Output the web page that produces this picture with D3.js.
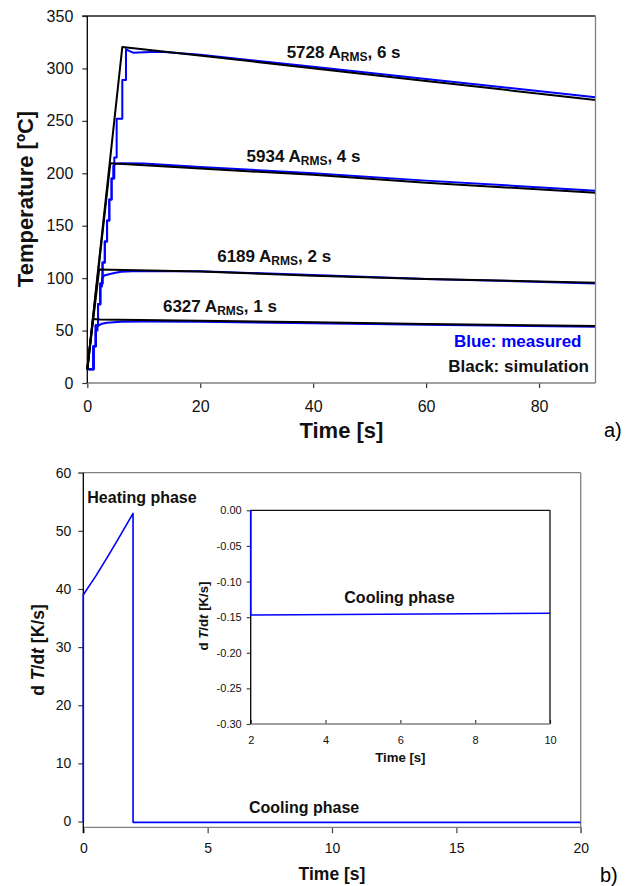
<!DOCTYPE html>
<html><head><meta charset="utf-8">
<script src="https://cdn.jsdelivr.net/npm/d3@7"></script>
<style>
body{margin:0;background:#fff}
svg{display:block}
text{font-family:"Liberation Sans",Arial,sans-serif}
</style>
</head><body>
<svg id="chart" width="626" height="886"></svg>
<script>
// ---------- Panel a data ----------
const timeTicksA = [0, 20, 40, 60, 80];
const tempTicks = [0, 50, 100, 150, 200, 250, 300, 350];

const sim6 = [[0,13],[6.2,320.5],[30,306.2],[60,288],[90,270]];
const sim4 = [[0,13],[4.07,209.5],[20,204.5],[40,198.5],[60,191],[90,181.5]];
const sim2 = [[0,13],[2.1,108.3],[20,106.3],[40,102.3],[60,99.3],[90,95.5]];
const sim1 = [[0,13],[1.0,61],[2.2,60.5],[20,59.3],[40,58],[60,56.3],[90,54.3]];

const meas6 = [[0.2,13],[1.1,13],[1.1,35],[1.5,35],[1.5,55],[1.9,55],[1.9,75],[2.3,75],[2.3,95],[2.7,95],[2.7,115],[3.1,115],[3.1,135],[3.5,135],[3.5,155],[3.9,155],[3.9,175],[4.3,175],[4.3,195],[4.78,195],[4.78,215],[5.2,215],[5.2,252],[6.2,252],[6.2,289],[6.85,289],[6.85,318.5],[7.3,317],[8.1,315],[10,315.5],[13,316],[20,313],[40,301.5],[60,290],[90,272.6]];
const meas4 = [[0.2,13],[1.1,13],[1.1,35],[1.5,35],[1.5,55],[1.9,55],[1.9,75],[2.3,75],[2.3,95],[2.7,95],[2.7,115],[3.1,115],[3.1,135],[3.5,135],[3.5,155],[3.9,155],[3.9,175],[4.3,175],[4.3,195],[4.6,195],[4.6,207],[5.0,209],[6,209.5],[10,209.3],[20,206],[40,200],[60,193],[90,183.4]];
const meas2 = [[0.2,13],[1.1,13],[1.1,35],[1.5,35],[1.5,55],[1.9,55],[1.9,75],[2.3,75],[2.3,92],[2.6,92],[2.6,100],[3.0,102.5],[4,104],[5,105.2],[6,106],[8,106.5],[20,106.5],[40,103],[60,99.3],[90,95]];
const meas1 = [[0.2,13],[1.1,13],[1.1,35],[1.5,35],[1.5,50],[1.8,50],[1.8,54],[2.2,55.5],[2.6,56.5],[3.5,57.5],[6,58.3],[10,58.6],[20,58.3],[40,57],[60,55.5],[90,53.7]];

const runLabels = [
  {cur:"5728", dur:"6 s", t:35.3, T:310},
  {cur:"5934", dur:"4 s", t:28.2, T:211},
  {cur:"6189", dur:"2 s", t:23.0, T:115.5},
  {cur:"6327", dur:"1 s", t:13.4, T:67.6}
];

// ---------- Panel b data ----------
const timeTicksB = [0, 5, 10, 15, 20];
const rateTicks = [0, 10, 20, 30, 40, 50, 60];
const rateCurve = [[0,-0.15],[0,39],[0.5,42.2],[1,45.7],[1.5,49.3],[2,53],[2,-0.15],[20,-0.15]];

const insetTimeTicks = [2, 4, 6, 8, 10];
const insetRateTicks = [0, -0.05, -0.10, -0.15, -0.20, -0.25, -0.30];
const insetCurve = [[2,0],[2,-0.147],[10,-0.1445]];

// ---------- drawing ----------
const svg = d3.select("#chart");
const BLUE = "#0000ff";
const GRAY = "#808080";

function styleAxis(g, size, color){
  g.select(".domain").remove();
  g.selectAll(".tick line").attr("stroke", color).attr("stroke-width", 1.2);
  g.selectAll(".tick text").attr("font-size", size).attr("fill", "#111")
    .attr("font-family", '"Liberation Sans",Arial,sans-serif');
}
function hline(x1,x2,y,c){svg.append("line").attr("x1",x1).attr("x2",x2).attr("y1",y).attr("y2",y).attr("stroke",c).attr("stroke-width",1.3);}
function vline(x,y1,y2,c){svg.append("line").attr("x1",x).attr("x2",x).attr("y1",y1).attr("y2",y2).attr("stroke",c).attr("stroke-width",1.3);}

// ===== Panel a =====
const xA = d3.scaleLinear().domain([0,90]).range([87.3,595.5]);
const yA = d3.scaleLinear().domain([0,350]).range([383,16]);

const gxA = svg.append("g").attr("transform","translate(0,383)")
  .call(d3.axisBottom(xA).tickValues(timeTicksA).tickSize(5).tickPadding(13).tickSizeOuter(0));
styleAxis(gxA, 16, "#333");
const gyA = svg.append("g").attr("transform","translate(87.3,0)")
  .call(d3.axisLeft(yA).tickValues(tempTicks).tickSize(5).tickPadding(9).tickSizeOuter(0));
styleAxis(gyA, 16, "#333");

const lineA = d3.line().x(d=>xA(d[0])).y(d=>yA(d[1]));
[meas1, meas2, meas4, meas6].forEach(s=>{
  svg.append("path").attr("d", lineA(s)).attr("fill","none").attr("stroke",BLUE)
    .attr("stroke-width",2).attr("stroke-linejoin","round");
});
[sim1, sim2, sim4, sim6].forEach(s=>{
  svg.append("path").attr("d", lineA(s)).attr("fill","none").attr("stroke","#000")
    .attr("stroke-width",2).attr("stroke-linejoin","round");
});

hline(82.3, 595.5, 16, "#222");
vline(595.5, 16, 383, GRAY);
hline(87.3, 595.5, 383, GRAY);
vline(87.3, 16, 383, "#000");

runLabels.forEach(l=>{
  const t = svg.append("text").attr("x", xA(l.t)).attr("y", yA(l.T))
    .attr("font-size", 17).attr("font-weight","bold").attr("fill","#111");
  t.append("tspan").text(l.cur + " A");
  t.append("tspan").attr("dy", 3).attr("font-size", 12).text("RMS");
  t.append("tspan").attr("dy", -3).text(", " + l.dur);
});

svg.append("text").attr("x",581.5).attr("y",346.7).attr("text-anchor","end")
  .attr("font-size",17).attr("font-weight","bold").attr("fill",BLUE).text("Blue: measured");
svg.append("text").attr("x",589).attr("y",371.7).attr("text-anchor","end")
  .attr("font-size",17).attr("font-weight","bold").attr("fill","#111").text("Black: simulation");

svg.append("text").attr("x",xA(45)).attr("y",438).attr("text-anchor","middle")
  .attr("font-size",22).attr("font-weight","bold").attr("fill","#111").text("Time [s]");
svg.append("text").attr("transform","translate(33,199) rotate(-90)").attr("text-anchor","middle")
  .attr("font-size",22).attr("font-weight","bold").attr("fill","#111").text("Temperature [ºC]");

svg.append("text").attr("x",604).attr("y",437).attr("font-size",20)
  .attr("font-family",'"Liberation Serif","Times New Roman",serif').attr("fill","#000").text("a)");

// ===== Panel b =====
const xB = d3.scaleLinear().domain([0,20]).range([83.3,580.7]);
const yB = d3.scaleLinear().domain([-1,60]).range([827.3,472.7]);

const gxB = svg.append("g").attr("transform","translate(0,827.3)")
  .call(d3.axisBottom(xB).tickValues(timeTicksB).tickSize(6).tickPadding(10).tickSizeOuter(0));
styleAxis(gxB, 14, "#444");
gxB.selectAll(".tick line").filter(d=>d===0).attr("stroke","#000");
const gyB = svg.append("g").attr("transform","translate(83.3,0)")
  .call(d3.axisLeft(yB).tickValues(rateTicks).tickSize(5).tickPadding(7).tickSizeOuter(0));
styleAxis(gyB, 14, "#444");

hline(78.3, 580.7, 472.7, GRAY);
vline(580.7, 472.7, 833, GRAY);
hline(83.3, 580.7, 827.3, GRAY);
vline(83.3, 472.7, 833, "#000");

const lineB = d3.line().x(d=>xB(d[0])).y(d=>yB(d[1]));
svg.append("path").attr("d", lineB(rateCurve)).attr("fill","none").attr("stroke",BLUE)
  .attr("stroke-width",1.6).attr("stroke-linejoin","round");

svg.append("text").attr("x",87.3).attr("y",503.3).attr("font-size",16).attr("font-weight","bold")
  .attr("fill","#111").text("Heating phase");
svg.append("text").attr("x",249).attr("y",813.3).attr("font-size",16).attr("font-weight","bold")
  .attr("fill","#111").text("Cooling phase");

svg.append("text").attr("x",xB(10)).attr("y",880).attr("text-anchor","middle")
  .attr("font-size",17.5).attr("font-weight","bold").attr("fill","#111").text("Time [s]");
const yt = svg.append("text").attr("transform","translate(44,650) rotate(-90)").attr("text-anchor","middle")
  .attr("font-size",17.5).attr("font-weight","bold").attr("fill","#111");
yt.append("tspan").text("d");
yt.append("tspan").attr("font-style","italic").text(" T");
yt.append("tspan").text("/d");
yt.append("tspan").attr("font-style","italic").text("t");
yt.append("tspan").text(" [K/s]");

svg.append("text").attr("x",600).attr("y",882).attr("font-size",20)
  .attr("font-family",'"Liberation Serif","Times New Roman",serif').attr("fill","#000").text("b)");

// ===== Inset =====
const xI = d3.scaleLinear().domain([2,10]).range([250.7,550]);
const yI = d3.scaleLinear().domain([-0.3,0]).range([724,510.3]);

svg.append("rect").attr("x",250.7).attr("y",510.3).attr("width",550-250.7).attr("height",724-510.3).attr("fill","#fff");

const gxI = svg.append("g").attr("transform","translate(0,724)")
  .call(d3.axisBottom(xI).tickValues(insetTimeTicks).tickSize(-4).tickPadding(12).tickSizeOuter(0));
styleAxis(gxI, 11, "#444");
const gyI = svg.append("g").attr("transform","translate(250.7,0)")
  .call(d3.axisLeft(yI).tickValues(insetRateTicks).tickSize(4).tickPadding(5).tickSizeOuter(0)
    .tickFormat(d=>(Math.abs(d)<1e-9?0:d).toFixed(2)));
styleAxis(gyI, 11, "#444");

hline(250.7, 550, 510.3, "#111");
vline(550, 510.3, 724, "#111");
hline(250.7, 550, 724, GRAY);
vline(250.7, 510.3, 724, "#000");

const lineI = d3.line().x(d=>xI(d[0])).y(d=>yI(d[1]));
svg.append("path").attr("d", lineI(insetCurve)).attr("fill","none").attr("stroke",BLUE)
  .attr("stroke-width",1.6);

svg.append("text").attr("x",344.3).attr("y",602.7).attr("font-size",16).attr("font-weight","bold")
  .attr("fill","#111").text("Cooling phase");
svg.append("text").attr("x",xI(6)).attr("y",761.5).attr("text-anchor","middle")
  .attr("font-size",13.2).attr("font-weight","bold").attr("fill","#111").text("Time [s]");
const yti = svg.append("text").attr("transform","translate(207.5,616) rotate(-90)").attr("text-anchor","middle")
  .attr("font-size",13.2).attr("font-weight","bold").attr("fill","#111");
yti.append("tspan").text("d");
yti.append("tspan").attr("font-style","italic").text(" T");
yti.append("tspan").text("/d");
yti.append("tspan").attr("font-style","italic").text("t");
yti.append("tspan").text(" [K/s]");
</script>
</body></html>
